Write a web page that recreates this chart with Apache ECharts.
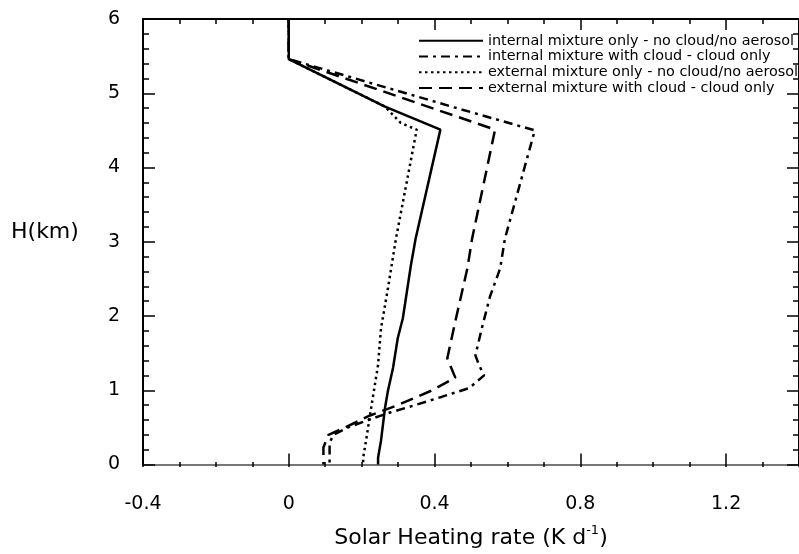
<!DOCTYPE html>
<html>
<head>
<meta charset="utf-8">
<script src="https://cdn.jsdelivr.net/npm/echarts@6/dist/echarts.min.js"></script>
<style>
  html, body { margin: 0; padding: 0; background: #fff; }
  #chart { width: 799px; height: 554px; }
</style>
</head>
<body>
<div id="chart"></div>
<script>
// Solar heating rate profiles: [heating rate (K/day), height (km)]
const seriesNames = [
  'internal mixture only - no cloud/no aerosol',
  'internal mixture with cloud - cloud only',
  'external mixture only - no cloud/no aerosol',
  'external mixture with cloud - cloud only'
];

const internalNoCloud = [
  [0, 6], [0, 5.46], [0.264, 4.82], [0.416, 4.51], [0.348, 3.04], [0.335, 2.68],
  [0.313, 1.97], [0.299, 1.70], [0.286, 1.30], [0.272, 0.99], [0.264, 0.76],
  [0.253, 0.32], [0.245, 0.09], [0.245, 0]
];

const internalCloud = [
  [0, 6], [0, 5.46], [0.454, 4.81], [0.675, 4.50], [0.593, 3.04], [0.580, 2.64],
  [0.552, 2.26], [0.531, 1.86], [0.512, 1.47], [0.522, 1.34], [0.536, 1.20],
  [0.495, 1.03], [0.419, 0.91], [0.340, 0.79], [0.278, 0.70], [0.218, 0.60],
  [0.163, 0.50], [0.122, 0.40], [0.112, 0.29], [0.112, 0]
];

const externalNoCloud = [
  [0, 6], [0, 5.46], [0.264, 4.82], [0.307, 4.60], [0.351, 4.51], [0.294, 3.04],
  [0.272, 2.37], [0.253, 1.83], [0.245, 1.34], [0.223, 0.67], [0.212, 0.32],
  [0.204, 0.09], [0.204, 0]
];

const externalCloud = [
  [0, 6], [0, 5.46], [0.566, 4.51], [0.503, 3.04], [0.490, 2.64], [0.457, 1.93],
  [0.435, 1.43], [0.457, 1.17], [0.389, 0.99], [0.299, 0.80], [0.223, 0.66],
  [0.155, 0.50], [0.109, 0.40], [0.095, 0.23], [0.095, 0]
];

const seriesData = [internalNoCloud, internalCloud, externalNoCloud, externalCloud];
const dashTypes = ['solid', [9, 5, 3, 5], [2.5, 3.5], [13, 7]];

const xRange = { min: -0.4, max: 1.4, major: 0.4, minor: 0.1 };
const yRange = { min: 0, max: 6, major: 1, minorSplit: 5 };

const FONT = 'DejaVu Sans';
const gridBox = { left: 143, right: -5.5, top: 19, bottom: 87 };

const chart = echarts.init(document.getElementById('chart'), null, { renderer: 'canvas' });

const majorX = (gridIndex, position, withLabels) => ({
  type: 'value', gridIndex, position,
  min: xRange.min, max: xRange.max, interval: xRange.major,
  axisLine: { show: true, onZero: false,
    lineStyle: { color: position === 'bottom' ? '#777' : '#000', width: 2 } },
  axisTick: { show: true, inside: true, length: 11, lineStyle: { color: '#000', width: 1.5 } },
  axisLabel: withLabels
    ? { show: true, margin: 30, fontFamily: FONT, fontSize: 19, color: '#000', showMaxLabel: false }
    : { show: false },
  splitLine: { show: false }
});

const minorX = (gridIndex, position) => ({
  type: 'value', gridIndex, position,
  min: xRange.min, max: xRange.max, interval: xRange.minor,
  axisLine: { show: false, onZero: false },
  axisTick: { show: true, inside: true, length: 5, lineStyle: { color: '#000', width: 1.5 } },
  axisLabel: { show: false },
  splitLine: { show: false }
});

const yAxisDef = (gridIndex, position, withLabels, visible) => ({
  type: 'value', gridIndex, position, show: visible,
  min: yRange.min, max: yRange.max, interval: yRange.major,
  axisLine: { show: true, onZero: false, lineStyle: { color: '#000', width: 2 } },
  axisTick: { show: true, inside: true, length: 12, lineStyle: { color: '#000', width: 1.5 } },
  minorTick: { show: true, splitNumber: yRange.minorSplit, length: 6,
    lineStyle: { color: '#000', width: 1.5 } },
  axisLabel: withLabels
    ? { show: true, margin: 23, fontFamily: FONT, fontSize: 19, color: '#000' }
    : { show: false },
  splitLine: { show: false },
  minorSplitLine: { show: false }
});

const xMainBottom = majorX(0, 'bottom', true);
xMainBottom.name = 'Solar Heating rate (K d{sup|-1})';
xMainBottom.nameLocation = 'middle';
xMainBottom.nameGap = 60;
xMainBottom.nameTextStyle = {
  fontFamily: FONT, fontSize: 22, color: '#000',
  rich: { sup: { fontFamily: FONT, fontSize: 13, color: '#000', verticalAlign: 'top', lineHeight: 27 } }
};

const option = {
  backgroundColor: '#fff',
  animation: false,
  grid: [Object.assign({}, gridBox), Object.assign({}, gridBox)],
  xAxis: [
    xMainBottom,
    majorX(0, 'top', false),
    minorX(1, 'bottom'),
    minorX(1, 'top')
  ],
  yAxis: [
    yAxisDef(0, 'left', true, true),
    yAxisDef(0, 'right', false, true),
    yAxisDef(1, 'left', false, false),
    yAxisDef(1, 'right', false, false)
  ],
  legend: {
    orient: 'vertical',
    left: 418, top: 33, padding: 0,
    itemWidth: 64, itemHeight: 14, itemGap: 0,
    selectedMode: false,
    itemStyle: { opacity: 0, borderWidth: 0 },
    textStyle: { fontFamily: FONT, fontSize: 14.4, color: '#000', lineHeight: 15.7 },
    data: seriesNames
  },
  graphic: [{
    type: 'text',
    style: { x: 11, y: 232, text: 'H(km)', font: '22px "DejaVu Sans"', fill: '#000',
      verticalAlign: 'middle', textAlign: 'left' }
  }],
  series: seriesNames.map((name, i) => ({
    name,
    type: 'line',
    xAxisIndex: 0, yAxisIndex: 0,
    data: seriesData[i],
    symbol: 'none', showSymbol: false,
    smooth: false,
    lineStyle: { color: '#000', width: 2.5, type: dashTypes[i] },
    itemStyle: { color: '#000' },
    z: 3
  }))
};

chart.setOption(option);
</script>
</body>
</html>
